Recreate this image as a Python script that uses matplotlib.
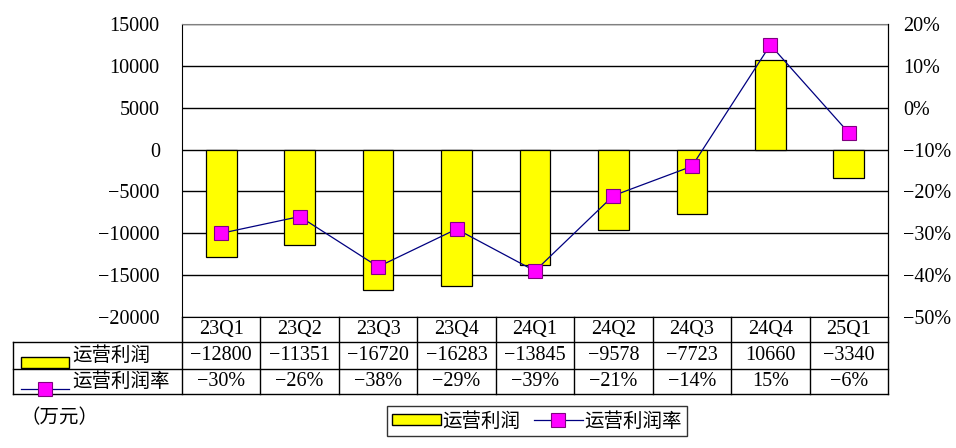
import numpy as np
import matplotlib
matplotlib.use("Agg")
import matplotlib.pyplot as plt
import matplotlib.transforms as mtransforms
from matplotlib.patches import Rectangle, Patch
from matplotlib.lines import Line2D

plt.rcParams['font.family'] = ['Liberation Serif', 'Noto Sans CJK SC']
plt.rcParams['font.size'] = 14

## data
quarters = ['23Q1', '23Q2', '23Q3', '23Q4', '24Q1', '24Q2', '24Q3', '24Q4', '25Q1']
profit = [-12800, -11351, -16720, -16283, -13845, -9578, -7723, 10660, -3340]
rate = [-30, -26, -38, -29, -39, -21, -14, 15, -6]
profit_label = '运营利润'
rate_label = '运营利润率'
unit_label = '（万元）'

YELLOW = '#FFFF00'
MAGENTA = '#FF00FF'
LINE_COL = '#000080'

fig = plt.figure(figsize=(9.56, 4.48), dpi=100)
ax = fig.add_axes([182/956, 1-317/448, (888-182)/956, (317-24)/448])

x = np.arange(len(quarters))
ax.bar(x, profit, width=0.39, color=YELLOW, edgecolor='black', linewidth=0.9, zorder=2)
ax.set_xlim(-0.5, len(quarters) - 0.5)
ax.set_ylim(-20000, 15000)
ax.set_yticks(np.arange(-20000, 15001, 5000))
ax.set_xticks([])
ax.grid(axis='y', color='black', linewidth=1)
ax.set_axisbelow(True)
ax.tick_params(axis='y', length=0, pad=16, labelsize=14.5)
for s in ['left', 'bottom', 'right']:
    ax.spines[s].set_color('black')
ax.spines['top'].set_color('#808080')

ax2 = ax.twinx()
ax2.plot(x, rate, color=LINE_COL, linewidth=0.9, marker='s', markersize=10,
         markerfacecolor=MAGENTA, markeredgecolor='#800080', markeredgewidth=0.8, zorder=3)
ax2.set_ylim(-50, 20)
ax2.set_yticks(np.arange(-50, 21, 10))
ax2.set_yticklabels([('%d%%' % v).replace('-', '\u2212') for v in range(-50, 21, 10)])
ax2.tick_params(axis='y', length=0, pad=11, labelsize=14.5)
for s in ['left', 'top', 'bottom']:
    ax2.spines[s].set_visible(False)
ax2.spines['right'].set_color('black')

# data table under the chart
tr = mtransforms.blended_transform_factory(ax.transData, ax.transAxes)
px = 293.0
r1 = -(342 - 317) / px
r2 = -(369 - 317) / px
r3 = -(394 - 317) / px
xl = (13 - 182) / 78.44 - 0.5
xr = len(quarters) - 0.5

def hline(y, x0, x1):
    ax.add_line(Line2D([x0, x1], [y, y], transform=tr, color='black', lw=1, clip_on=False))

def vline(xx, y0, y1):
    ax.add_line(Line2D([xx, xx], [y0, y1], transform=tr, color='black', lw=1, clip_on=False))

hline(r1, xl, xr)
hline(r2, xl, xr)
hline(r3, xl, xr)
vline(xl, r1, r3)
for k in range(len(quarters) + 1):
    vline(k - 0.5, 0, r3)

for i, q in enumerate(quarters):
    ax.text(i, r1 / 2, q, transform=tr, ha='center', va='center', fontsize=14.5)
    ax.text(i, (r1 + r2) / 2, str(profit[i]).replace('-', '\u2212'), transform=tr,
            ha='center', va='center', fontsize=14.5)
    ax.text(i, (r2 + r3) / 2, ('%d%%' % rate[i]).replace('-', '\u2212'), transform=tr,
            ha='center', va='center', fontsize=14.5)

# row headers with keys
kx0 = (21 - 182) / 78.44 - 0.5
kx1 = (69 - 182) / 78.44 - 0.5
ax.add_patch(Rectangle((kx0, -(368 - 317) / px), kx1 - kx0, 11 / px, transform=tr,
                       facecolor=YELLOW, edgecolor='black', lw=1, clip_on=False))
ax.text((72 - 182) / 78.44 - 0.5, (r1 + r2) / 2, profit_label, transform=tr,
        ha='left', va='center', family='Noto Sans CJK SC')
ly = -(389 - 317) / px
ax.add_line(Line2D([kx0, kx1], [ly, ly], transform=tr, color=LINE_COL, lw=0.9, clip_on=False))
ax.add_line(Line2D([(kx0 + kx1) / 2], [ly], transform=tr, marker='s', markersize=10,
                   markerfacecolor=MAGENTA, markeredgecolor='#800080', markeredgewidth=0.8,
                   clip_on=False))
ax.text((72 - 182) / 78.44 - 0.5, (r2 + r3) / 2, rate_label, transform=tr,
        ha='left', va='center', family='Noto Sans CJK SC')

fig.text(20/956, 1 - 418/448, unit_label, ha='left', va='center', family='Noto Sans CJK SC')

handles = [Patch(facecolor=YELLOW, edgecolor='black', lw=1),
           Line2D([], [], color=LINE_COL, lw=0.9, marker='s', markersize=10,
                  markerfacecolor=MAGENTA, markeredgecolor='#800080', markeredgewidth=0.8)]
leg = fig.legend(handles, [profit_label, rate_label], loc='center',
                 bbox_to_anchor=((379 + 695) / 2 / 956, 1 - 421 / 448), ncol=2,
                 frameon=True, fancybox=False, edgecolor='black', handlelength=2.5,
                 handleheight=0.55, handletextpad=0.1, columnspacing=0.7,
                 borderpad=0.25, borderaxespad=0,
                 prop={'family': 'Noto Sans CJK SC', 'size': 14})
leg.get_frame().set_linewidth(1)

fig.savefig('out.png', dpi=100)
